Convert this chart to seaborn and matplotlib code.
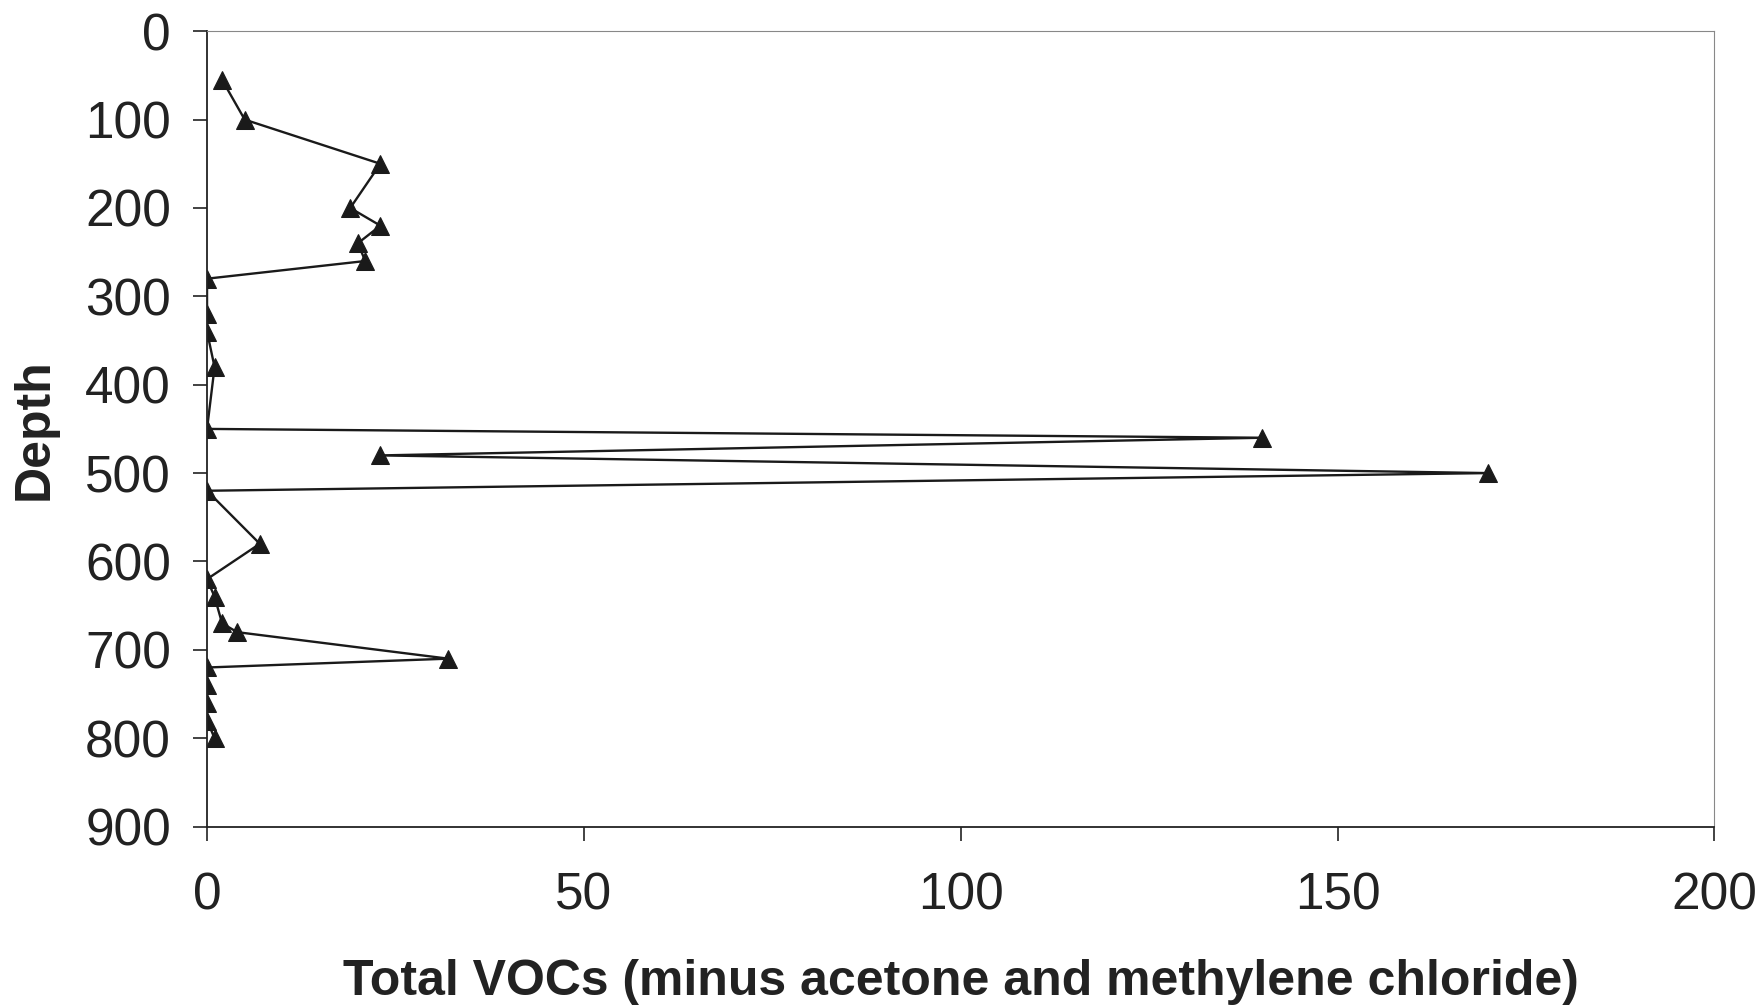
import pandas as pd
import matplotlib.pyplot as plt
import seaborn as sns

# depth profile
depth = [55, 100, 150, 200, 220, 240, 260, 280, 320, 340, 380, 450, 460, 480,
         500, 520, 580, 620, 640, 670, 680, 710, 720, 740, 760, 780, 800]
voc = [2, 5, 23, 19, 23, 20, 21, 0, 0, 0, 1, 0, 140, 23,
       170, 0, 7, 0, 1, 2, 4, 32, 0, 0, 0, 0, 1]

df = pd.DataFrame({'depth': depth, 'voc': voc})

sns.set_style('white')
plt.rcParams['font.family'] = ['Liberation Sans', 'DejaVu Sans']

fig = plt.figure(figsize=(17.62, 10.08), dpi=100)
ax = fig.add_axes([0.1175, 0.180, 0.8555, 0.789])

sns.lineplot(data=df, x='voc', y='depth', sort=False, estimator=None,
             marker='^', markersize=13, color='#1a1a1a', linewidth=1.7,
             markeredgecolor='#1a1a1a', ax=ax)

ax.set_xlim(0, 200)
ax.set_ylim(900, 0)
ax.set_xticks([0, 50, 100, 150, 200])
ax.set_yticks(range(0, 901, 100))

for s in ['top', 'right']:
    ax.spines[s].set_color('#888888')
    ax.spines[s].set_linewidth(0.8)
for s in ['left', 'bottom']:
    ax.spines[s].set_color('#222222')
    ax.spines[s].set_linewidth(1.3)

ax.tick_params(axis='both', direction='out', length=10, width=1.2,
               color='#222222', labelsize=37, labelcolor='#222222')
ax.tick_params(axis='y', pad=16)
ax.tick_params(axis='x', pad=22)
ax.tick_params(left=True, bottom=True)

ax.set_xlabel('Total VOCs (minus acetone and methylene chloride)',
              fontsize=36, fontweight='bold', color='#222222', labelpad=28)
ax.set_ylabel('Depth', fontsize=36, fontweight='bold', color='#222222',
              labelpad=20)

fig.savefig('out.png', dpi=100)
